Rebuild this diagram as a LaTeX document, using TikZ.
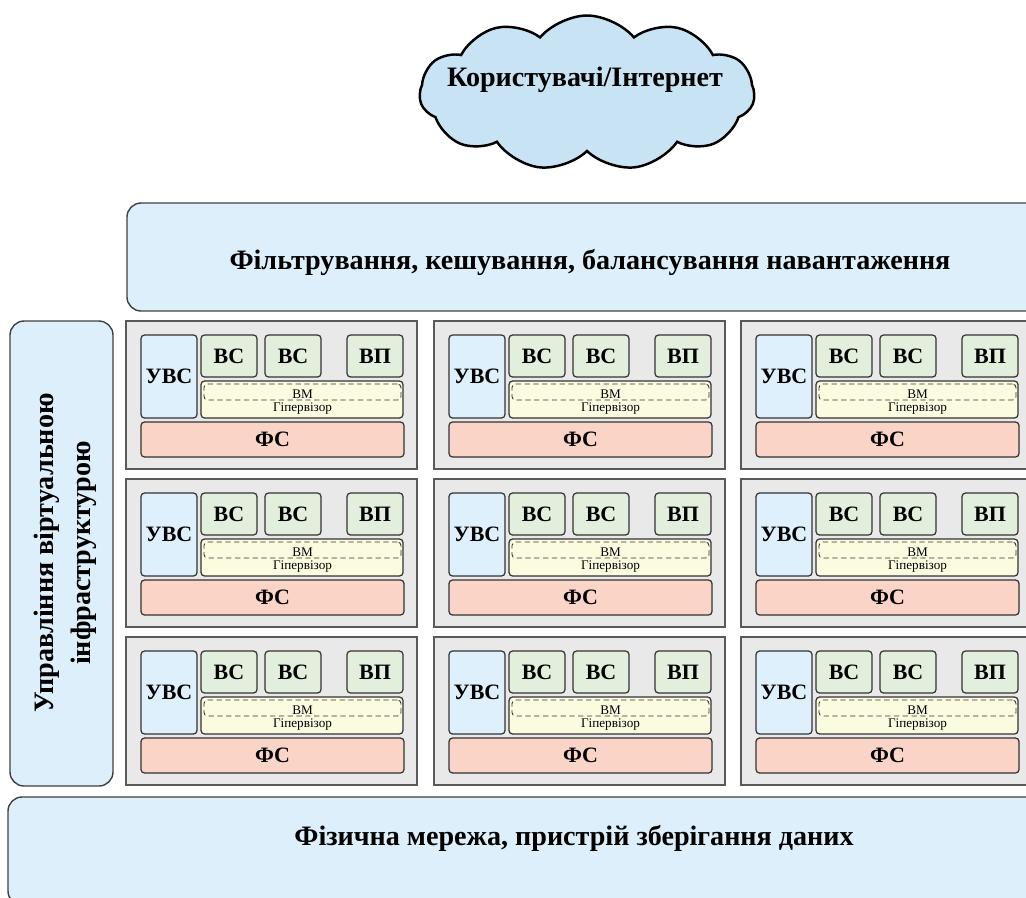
\documentclass[tikz,border=0pt]{standalone}
\usepackage{fontspec}
\setmainfont{Liberation Serif}
\usepackage{xcolor}
\usetikzlibrary{shapes.symbols, positioning, calc}

\definecolor{cloudblue}{HTML}{C8E4F4}
\definecolor{barblue}{HTML}{DDEFFA}
\definecolor{cellgray}{HTML}{E9E9E9}
\definecolor{uvsblue}{HTML}{DEF0FB}
\definecolor{vsgreen}{HTML}{E2EFDC}
\definecolor{hypyellow}{HTML}{FBFBE0}
\definecolor{fsred}{HTML}{F9D4C7}

\tikzset{
  px/.style n args={2}{minimum width=#1*0.02cm, minimum height=#2*0.02cm, inner sep=0pt},
  bar/.style={draw=black!75, line width=0.8pt, rounded corners=8pt, fill=barblue},
  bartext/.style={font=\bfseries\fontsize{16}{21}\selectfont},
  cell/.style={draw=black!65, line width=0.8pt, fill=cellgray},
  unit/.style={draw=black!80, line width=0.7pt, rounded corners=2pt, font=\bfseries\fontsize{12.5}{14}\selectfont},
  tinytext/.style={font=\fontsize{7.5}{8}\selectfont}
}

\begin{document}
\begin{tikzpicture}[x=0.02cm, y=-0.02cm]
\clip (0,0) rectangle (1026,897);
\useasboundingbox (0,0) rectangle (1026,897);

% Cloud
\node[cloud, draw, line width=1.4pt, fill=cloudblue, cloud puffs=11, cloud puff arc=100, aspect=2.2, px={335}{155}] (cloud) at (587,93) {};
\node[bartext, font=\bfseries\fontsize{16}{18}\selectfont] (users) at (585,80) {Користувачі/Інтернет};

% Top bar
\node[bar, px={915}{108}] (filter) at (584.5,257) {};
\node[bartext] (filtertext) at (590,262) {Фільтрування, кешування, балансування навантаження};

% Left bar
\node[bar, px={103}{465}] (manage) at (61.5,553.5) {};
\node[bartext, rotate=90, align=center] (managetext) at (65,553) {Управління віртуальною\\інфраструктурою};

% Bottom bar
\node[bar, px={1132}{108}] (phys) at (574,851) {};
\node[bartext] (phystext) at (574,838) {Фізична мережа, пристрій зберігання даних};

% Host cells
\foreach \col/\cx in {1/126, 2/434, 3/741} {
  \foreach \row/\cy in {1/321, 2/479, 3/637} {
    \begin{scope}[shift={(\cx,\cy)}]
      \node[cell, px={291}{148}] (cell\row\col) at (145.5,74) {};
      \node[unit, fill=uvsblue, px={56}{83}] (uvs\row\col) at (43,55.5) {УВС};
      \node[unit, fill=vsgreen, px={56}{42}] (vsa\row\col) at (103,35) {ВС};
      \node[unit, fill=vsgreen, px={56}{42}] (vsb\row\col) at (167,35) {ВС};
      \node[unit, fill=vsgreen, px={56}{42}] (vp\row\col) at (249,35) {ВП};
      \node[unit, fill=hypyellow, px={202}{37}] (hyp\row\col) at (176,78.5) {};
      \node[unit, densely dashed, line width=0.5pt, fill=hypyellow, px={197}{16}] (vm\row\col) at (176.5,71) {};
      \node[tinytext] (vmtext\row\col) at (176.5,73) {ВМ};
      \node[tinytext] (hyptext\row\col) at (176.5,88) {Гіпервізор};
      \node[unit, fill=fsred, px={263}{35}] (fs\row\col) at (146.5,118.5) {ФС};
    \end{scope}
  }
}

\end{tikzpicture}
\end{document}
